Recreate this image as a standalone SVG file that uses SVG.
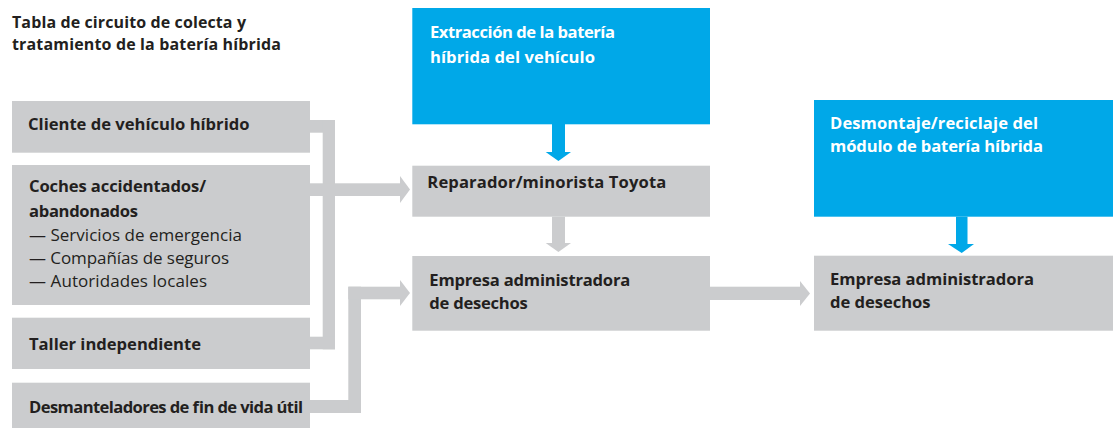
<svg xmlns="http://www.w3.org/2000/svg" width="1117" height="429" viewBox="0 0 1117 429">
<style>
.g{fill:#cbccce}
.b{fill:#00a8e8}
text{font-family:"Open Sans","Liberation Sans",sans-serif;lengthAdjust:spacing}
.t{font-weight:700;font-size:16.6px;fill:#231f20}
.w{font-weight:700;font-size:16.6px;fill:#ffffff}
.r{font-weight:400;font-size:17px;fill:#231f20}
.h{font-weight:700;font-size:16px;fill:#231f20}
</style>
<rect width="1117" height="429" fill="#ffffff"/>
<g id="title">
<text class="h" x="12" y="28" textLength="234" lengthAdjust="spacing">Tabla de circuito de colecta y</text>
<text class="h" x="12" y="50" textLength="269" lengthAdjust="spacing">tratamiento de la batería híbrida</text>
</g>
<g id="connectors">
<rect class="g" x="310" y="120" width="25" height="12.7"/>
<rect class="g" x="322.7" y="120" width="12.3" height="229.3"/>
<rect class="g" x="310" y="336.7" width="25" height="12.6"/>
<rect class="g" x="310" y="183.3" width="90" height="12.7"/>
<polygon class="g" points="400,176 410,189.6 400,203"/>
<rect class="g" x="310" y="400" width="51" height="13"/>
<rect class="g" x="348.3" y="286.7" width="12.7" height="126.3"/>
<rect class="g" x="348.3" y="286.7" width="51.7" height="12.6"/>
<polygon class="g" points="400,280 410,293 400,306"/>
<rect class="b" x="552" y="124" width="13" height="28"/>
<polygon class="b" points="545.7,152 571,152 558.4,161"/>
<rect class="g" x="552" y="216.7" width="13" height="26.3"/>
<polygon class="g" points="545.7,243 571,243 558.4,252"/>
<rect class="g" x="710" y="286.7" width="90" height="13.3"/>
<polygon class="g" points="800,281 810,293.4 800,306"/>
<rect class="b" x="956" y="216.7" width="11.5" height="27.3"/>
<polygon class="b" points="948,244 974,244 961.7,253"/>
</g>
<g id="cliente">
<rect class="g" x="12" y="101" width="298" height="51.7"/>
<text class="t" x="28" y="129.5" textLength="221.5" lengthAdjust="spacing">Cliente de vehículo híbrido</text>
</g>
<g id="coches">
<rect class="g" x="12" y="165" width="298" height="140"/>
<text class="t" x="29" y="192.3" textLength="177" lengthAdjust="spacing">Coches accidentados/</text>
<text class="t" x="29" y="216.7" textLength="109" lengthAdjust="spacing">abandonados</text>
<text class="r" x="29" y="240.5" textLength="213" lengthAdjust="spacing">— Servicios de emergencia</text>
<text class="r" x="29" y="263.5" textLength="200" lengthAdjust="spacing">— Compañías de seguros</text>
<text class="r" x="29" y="286.5" textLength="178" lengthAdjust="spacing">— Autoridades locales</text>
</g>
<g id="taller">
<rect class="g" x="12" y="317.7" width="298" height="51.3"/>
<text class="t" x="29" y="350" textLength="172" lengthAdjust="spacing">Taller independiente</text>
</g>
<g id="desmanteladores">
<rect class="g" x="12" y="382.7" width="298" height="45.3"/>
<text class="t" x="29" y="413" textLength="274" lengthAdjust="spacing">Desmanteladores de fin de vida útil</text>
</g>
<g id="extraccion">
<rect class="b" x="412.3" y="8" width="297.7" height="116.3"/>
<text class="w" x="430" y="38.3" textLength="185" lengthAdjust="spacing">Extracción de la batería</text>
<text class="w" x="430" y="62.7" textLength="165" lengthAdjust="spacing">híbrida del vehículo</text>
</g>
<g id="reparador">
<rect class="g" x="412.3" y="165.7" width="297.7" height="51"/>
<text class="t" x="427.3" y="187.5" textLength="239" lengthAdjust="spacing">Reparador/minorista Toyota</text>
</g>
<g id="empresa1">
<rect class="g" x="412.3" y="256" width="297.7" height="74.7"/>
<text class="t" x="429.3" y="286" textLength="201" lengthAdjust="spacing">Empresa administradora</text>
<text class="t" x="429.3" y="309.3" textLength="98.5" lengthAdjust="spacing">de desechos</text>
</g>
<g id="desmontaje">
<rect class="b" x="814" y="100" width="299" height="116.7"/>
<text class="w" x="830" y="129.3" textLength="208" lengthAdjust="spacing">Desmontaje/reciclaje del</text>
<text class="w" x="830" y="151.7" textLength="213" lengthAdjust="spacing">módulo de batería híbrida</text>
</g>
<g id="empresa2">
<rect class="g" x="814" y="255.7" width="299" height="75"/>
<text class="t" x="830" y="285" textLength="204" lengthAdjust="spacing">Empresa administradora</text>
<text class="t" x="830" y="308.3" textLength="100.5" lengthAdjust="spacing">de desechos</text>
</g>
</svg>
